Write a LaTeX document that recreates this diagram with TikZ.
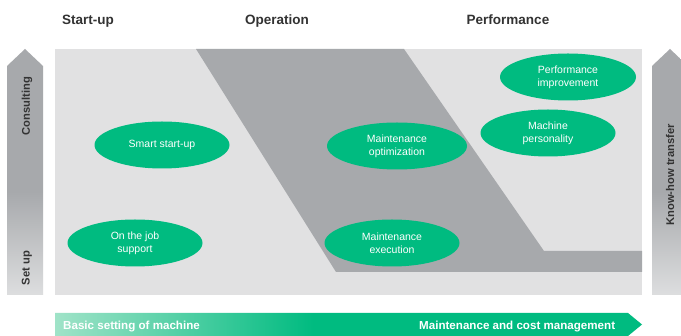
\documentclass[tikz,border=0pt]{standalone}
\usepackage{fontspec}
\setmainfont{Liberation Sans}
\usetikzlibrary{shapes.geometric}
\definecolor{lgrey}{HTML}{E1E1E2}
\definecolor{dgrey}{HTML}{A7A9AC}
\definecolor{pgreen}{HTML}{00BB80}
\definecolor{txt}{HTML}{333333}
\definecolor{lgreen}{HTML}{A0E3C8}
\definecolor{sidelight}{HTML}{DDDEDF}
\pgfdeclarehorizontalshading{greenbar}{100bp}{color(0bp)=(lgreen); color(25bp)=(lgreen); color(47bp)=(pgreen); color(100bp)=(pgreen)}
\pgfdeclareverticalshading{sidebar}{100bp}{color(0bp)=(sidelight); color(25bp)=(sidelight); color(46bp)=(dgrey); color(100bp)=(dgrey)}
\tikzset{
  ell/.style={ellipse, fill=pgreen, text=white, inner sep=0pt, minimum width=135pt, minimum height=47pt, align=center, font=\fontsize{10.5}{12.7}\selectfont},
  header/.style={text=txt, font=\fontsize{13.5}{15}\selectfont\bfseries, inner sep=0pt, anchor=base},
  sidelabel/.style={text=txt, font=\fontsize{11.2}{13}\selectfont\bfseries, inner sep=0pt, rotate=90},
  barlabel/.style={text=white, font=\fontsize{11.6}{13}\selectfont\bfseries, inner sep=0pt, anchor=base west},
}
\begin{document}
\begin{tikzpicture}[x=1pt, y=-1pt]
\useasboundingbox (0,0) rectangle (681,336);
\fill[white] (0,0) rectangle (681,336);
% main field
\fill[lgrey] (55,49) rectangle (642,295);
\fill[dgrey] (196,49) -- (404,49) -- (544,251) -- (642,251) -- (642,272) -- (336,272) -- cycle;
% side arrows
\shade[shading=sidebar] (7,295) -- (7,66) -- (25,49) -- (43,66) -- (43,295) -- cycle;
\shade[shading=sidebar] (652,295) -- (652,66) -- (670,49) -- (688,66) -- (688,295) -- cycle;
% bottom arrow
\shade[shading=greenbar] (55,313) -- (628,313) -- (642,324.5) -- (628,336) -- (55,336) -- cycle;
% headers
\node[header] (h1) at (88,25) {Start-up};
\node[header] (h2) at (277,25) {Operation};
\node[header] (h3) at (508,25) {Performance};
% side labels
\node[sidelabel] (consult) at (27,106) {Consulting};
\node[sidelabel] (setup) at (27,268) {Set up};
\node[sidelabel] (knowhow) at (670,175) {Know-how transfer};
% bar labels
\node[barlabel] (b1) at (63,330) {Basic setting of machine};
\node[barlabel] (b2) at (419,330) {Maintenance and cost management};
% ellipses
\node[ell] (smart) at (162,145) {Smart start-up};
\node[ell] (job) at (135,243) {On the job\\support};
\node[ell, minimum width=140pt] (mopt) at (397,146) {Maintenance\\optimization};
\node[ell] (mexe) at (392,243) {Maintenance\\execution};
\node[ell, minimum width=136pt] (perf) at (568,77) {Performance\\improvement};
\node[ell] (pers) at (548,133) {Machine\\personality};
\end{tikzpicture}
\end{document}
